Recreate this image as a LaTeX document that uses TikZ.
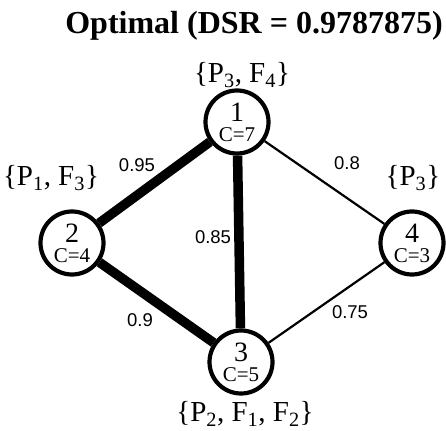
\documentclass[tikz,border=0pt]{standalone}
\usepackage{fontspec}
\setmainfont{Liberation Serif}
\setsansfont{Liberation Sans}
\usetikzlibrary{positioning}
\newcommand{\vnum}[1]{{\fontsize{28}{20}\selectfont #1}}
\newcommand{\capty}[1]{{\fontsize{21}{20}\selectfont C=#1}}

\begin{document}
\begin{tikzpicture}[x=1pt, y=-1pt,
  site/.style={draw, circle, line width=4.2pt, minimum size=63pt, inner sep=0pt,
               align=center, font=\fontsize{21}{20}\selectfont},
  strong/.style={line width=9.5pt},
  weak/.style={line width=2.2pt},
  rel/.style={font=\sffamily\fontsize{18.5}{18}\selectfont},
  alloc/.style={font=\fontsize{29}{29}\selectfont}
]
\useasboundingbox (0,0) rectangle (446,430);

% Title
\node[font=\bfseries\fontsize{32}{32}\selectfont] (title) at (254, 26)
  {Optimal (DSR = 0.9787875)};

% Sites
\node[site] (s1) at (237, 122) {\vnum{1}\\\capty{7}};
\node[site] (s2) at (72, 243) {\vnum{2}\\\capty{4}};
\node[site] (s3) at (241, 362) {\vnum{3}\\\capty{5}};
\node[site] (s4) at (412, 243) {\vnum{4}\\\capty{3}};

% Links
\draw[strong] (s1) -- (s2);
\draw[strong] (s1) -- (s3);
\draw[strong] (s2) -- (s3);
\draw[weak] (s1) -- (s4);
\draw[weak] (s3) -- (s4);

% Reliabilities
\node[rel] (r12) at (137, 165) {0.95};
\node[rel] (r13) at (213, 237) {0.85};
\node[rel] (r23) at (140, 320) {0.9};
\node[rel] (r14) at (347, 163) {0.8};
\node[rel] (r34) at (350, 312) {0.75};

% Allocations
\node[alloc] (a1) at (242, 75) {\{P\textsubscript{3}, F\textsubscript{4}\}};
\node[alloc] (a2) at (51, 178) {\{P\textsubscript{1}, F\textsubscript{3}\}};
\node[alloc] (a4) at (413, 178) {\{P\textsubscript{3}\}};
\node[alloc] (a3) at (245, 414) {\{P\textsubscript{2}, F\textsubscript{1}, F\textsubscript{2}\}};

\end{tikzpicture}
\end{document}
